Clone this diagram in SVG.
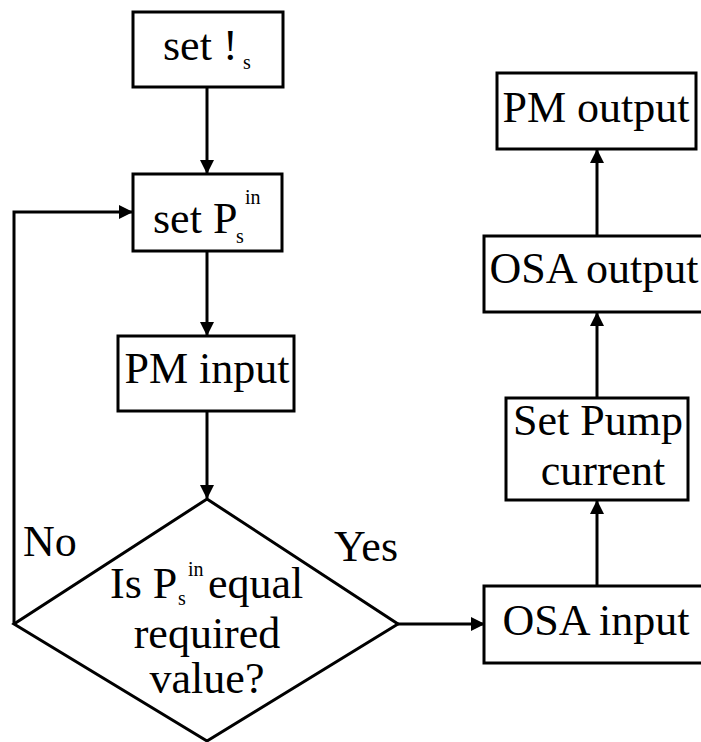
<svg xmlns="http://www.w3.org/2000/svg" width="701" height="742" viewBox="0 0 701 742">
<defs>
<style>
.box{fill:#fff;stroke:#000;stroke-width:3}
.ln{fill:none;stroke:#000;stroke-width:3}
text{font-family:'Liberation Serif','Times New Roman',serif;fill:#000}
.t{font-size:44px}
.m{text-anchor:middle}
.s{font-size:20px}
</style>
<marker id="ah" markerUnits="userSpaceOnUse" markerWidth="14" markerHeight="14" refX="13" refY="7" orient="auto">
<path d="M0,0 L14,7 L0,14 z" fill="#000"/>
</marker>
</defs>
<rect width="701" height="742" fill="#fff"/>
<g id="connectors">
<line class="ln" x1="207" y1="87" x2="207" y2="173" marker-end="url(#ah)"/>
<line class="ln" x1="207" y1="251" x2="207" y2="335" marker-end="url(#ah)"/>
<line class="ln" x1="207" y1="411" x2="207" y2="498" marker-end="url(#ah)"/>
<polyline class="ln" points="14,624 14,212 132,212" marker-end="url(#ah)"/>
<line class="ln" x1="398" y1="624" x2="484" y2="624" marker-end="url(#ah)"/>
<line class="ln" x1="597" y1="586" x2="597" y2="501" marker-end="url(#ah)"/>
<line class="ln" x1="597" y1="398" x2="597" y2="313" marker-end="url(#ah)"/>
<line class="ln" x1="597" y1="236" x2="597" y2="150" marker-end="url(#ah)"/>
</g>
<g id="set-omega">
<rect class="box" x="133" y="12" width="150" height="75"/>
<text class="t" x="163" y="60">set !<tspan class="s" x="243" y="69">s</tspan></text>
</g>
<g id="set-p">
<rect class="box" x="133" y="174" width="149" height="77"/>
<text class="t" x="153" y="233">set P<tspan class="s" x="236" y="243">s</tspan><tspan class="s" x="245" y="204">in</tspan></text>
</g>
<g id="pm-input">
<rect class="box" x="118" y="336" width="176" height="75"/>
<text class="t m" x="207" y="383">PM input</text>
</g>
<g id="decision">
<polygon class="box" points="207,499 398,624 207,741 14,624"/>
<text class="t" x="110" y="598">Is P<tspan class="s" x="178" y="605">s</tspan><tspan class="s" x="188" y="576">in</tspan><tspan x="208" y="598">equal</tspan></text>
<text class="t m" x="207" y="648">required</text>
<text class="t m" x="207" y="693">value?</text>
</g>
<g id="labels">
<text class="t" x="23" y="556">No</text>
<text class="t" x="334" y="561">Yes</text>
</g>
<g id="osa-input">
<rect class="box" x="484" y="586" width="222" height="77"/>
<text class="t m" x="596" y="635">OSA input</text>
</g>
<g id="set-pump">
<rect class="box" x="506" y="398" width="182" height="102"/>
<text class="t m" x="598" y="435">Set Pump</text>
<text class="t m" x="603" y="485">current</text>
</g>
<g id="osa-output">
<rect class="box" x="484" y="236" width="222" height="76"/>
<text class="t m" x="594" y="283">OSA output</text>
</g>
<g id="pm-output">
<rect class="box" x="497" y="73" width="199" height="76"/>
<text class="t m" x="596" y="122">PM output</text>
</g>
</svg>
